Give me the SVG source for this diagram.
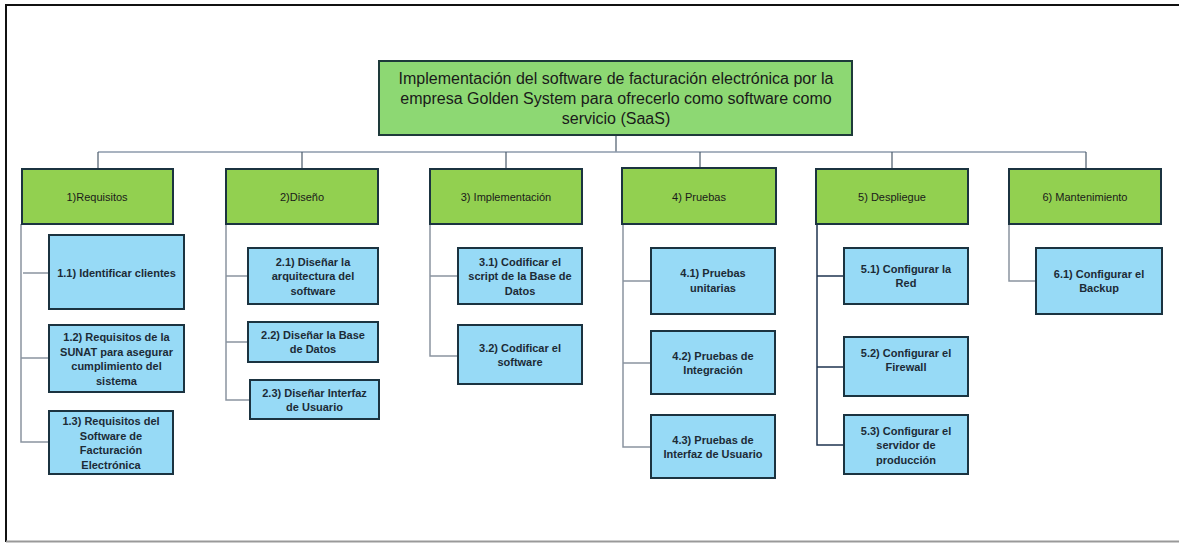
<svg xmlns="http://www.w3.org/2000/svg" width="1179" height="543" viewBox="0 0 1179 543">
<style>
.title{font-family:"Liberation Sans",Arial,sans-serif;font-size:16px;fill:#1a1a1a;text-anchor:middle}
.l1{font-family:"Liberation Sans",Arial,sans-serif;font-size:11px;fill:#1a1a1a;text-anchor:middle}
.l2{font-family:"Liberation Sans",Arial,sans-serif;font-size:11px;font-weight:bold;fill:#1c2b36;text-anchor:middle}
.top{fill:#8dd873;stroke:#1e3a3a;stroke-width:2}
.g{fill:#92d050;stroke:#1b3340;stroke-width:2}
.b{fill:#97daf6;stroke:#1b3340;stroke-width:2}
.bus{stroke:#8c9aab;stroke-width:1.5;fill:none}
.drop{stroke:#4a5a6a;stroke-width:1.2;fill:none}
.br{stroke:#8a94a0;stroke-width:1.5;fill:none}
</style>
<rect x="0" y="0" width="1179" height="543" fill="#ffffff"/>
<line x1="5" y1="5" x2="1179" y2="5" stroke="#111" stroke-width="2"/>
<line x1="6" y1="4" x2="6" y2="542" stroke="#111" stroke-width="2"/>
<line x1="6" y1="541.5" x2="1179" y2="541.5" stroke="#999" stroke-width="2"/>

<g id="connectors">
<line class="drop" x1="616" y1="136" x2="616" y2="152"/>
<line class="bus" x1="98" y1="152" x2="1086" y2="152"/>
<line class="drop" x1="98" y1="152" x2="98" y2="168"/>
<line class="drop" x1="302" y1="152" x2="302" y2="168"/>
<line class="drop" x1="506" y1="152" x2="506" y2="168"/>
<line class="drop" x1="700" y1="152" x2="700" y2="168"/>
<line class="drop" x1="892" y1="152" x2="892" y2="168"/>
<line class="drop" x1="1086" y1="152" x2="1086" y2="168"/>
<path class="br" d="M21 224 V442 H49 M23 273 H49 M21 358 H49"/>
<path class="br" d="M226 224 V400 H250 M226 276 H248 M226 342 H248"/>
<path class="br" d="M430 224 V356 H458 M430 276 H458"/>
<path class="br" d="M623 224 V447 H651 M623 281 H651 M623 363 H651"/>
<path class="br" d="M817 224 V445 H844 M817 276 H844 M817 367 H844" style="stroke:#1f3550"/>
<path class="br" d="M1009 224 V281 H1036"/>
</g>

<g id="root">
<rect class="top" x="379" y="61" width="473" height="74"/>
<text class="title" x="616" y="84">Implementación del software de facturación electrónica por la</text>
<text class="title" x="616" y="104">empresa Golden System para ofrecerlo como software como</text>
<text class="title" x="616" y="124">servicio (SaaS)</text>
</g>

<g id="n1"><rect class="g" x="22" y="169" width="151" height="55"/><text class="l1" x="97" y="201">1)Requisitos</text></g>
<g id="n2"><rect class="g" x="226" y="169" width="152" height="55"/><text class="l1" x="302" y="201">2)Diseño</text></g>
<g id="n3"><rect class="g" x="430" y="169" width="152" height="55"/><text class="l1" x="506" y="201">3) Implementación</text></g>
<g id="n4"><rect class="g" x="622" y="168" width="154" height="56"/><text class="l1" x="699" y="201">4) Pruebas</text></g>
<g id="n5"><rect class="g" x="816" y="169" width="152" height="55"/><text class="l1" x="892" y="201">5) Despliegue</text></g>
<g id="n6"><rect class="g" x="1009" y="169" width="152" height="55"/><text class="l1" x="1085" y="201">6) Mantenimiento</text></g>

<g id="n1-1"><rect class="b" x="49" y="235" width="135" height="74"/><text class="l2" x="116.5" y="277">1.1) Identificar clientes</text></g>
<g id="n1-2"><rect class="b" x="49" y="325" width="135" height="67"/><text class="l2" x="116.5" y="341">1.2) Requisitos de la</text><text class="l2" x="116.5" y="356">SUNAT para asegurar</text><text class="l2" x="116.5" y="370">cumplimiento del</text><text class="l2" x="116.5" y="385">sistema</text></g>
<g id="n1-3"><rect class="b" x="49" y="411" width="124" height="63"/><text class="l2" x="111" y="425">1.3) Requisitos del</text><text class="l2" x="111" y="440">Software de</text><text class="l2" x="111" y="454">Facturación</text><text class="l2" x="111" y="469">Electrónica</text></g>

<g id="n2-1"><rect class="b" x="248" y="248" width="130" height="56"/><text class="l2" x="313" y="266">2.1) Diseñar la</text><text class="l2" x="313" y="280">arquitectura del</text><text class="l2" x="313" y="295">software</text></g>
<g id="n2-2"><rect class="b" x="248" y="322" width="130" height="40"/><text class="l2" x="313" y="339">2.2) Diseñar la Base</text><text class="l2" x="313" y="353">de Datos</text></g>
<g id="n2-3"><rect class="b" x="250" y="380" width="129" height="39"/><text class="l2" x="314.5" y="397">2.3) Diseñar Interfaz</text><text class="l2" x="314.5" y="411">de Usuario</text></g>

<g id="n3-1"><rect class="b" x="458" y="248" width="124" height="56"/><text class="l2" x="520" y="266">3.1) Codificar el</text><text class="l2" x="520" y="280">script de la Base de</text><text class="l2" x="520" y="295">Datos</text></g>
<g id="n3-2"><rect class="b" x="458" y="325" width="124" height="59"/><text class="l2" x="520" y="352">3.2) Codificar el</text><text class="l2" x="520" y="366">software</text></g>

<g id="n4-1"><rect class="b" x="651" y="248" width="124" height="66"/><text class="l2" x="713" y="277">4.1) Pruebas</text><text class="l2" x="713" y="292">unitarias</text></g>
<g id="n4-2"><rect class="b" x="651" y="331" width="124" height="63"/><text class="l2" x="713" y="360">4.2) Pruebas de</text><text class="l2" x="713" y="374">Integración</text></g>
<g id="n4-3"><rect class="b" x="651" y="415" width="124" height="63"/><text class="l2" x="713" y="444">4.3) Pruebas de</text><text class="l2" x="713" y="458">Interfaz de Usuario</text></g>

<g id="n5-1"><rect class="b" x="844" y="248" width="124" height="56"/><text class="l2" x="906" y="273">5.1) Configurar la</text><text class="l2" x="906" y="287">Red</text></g>
<g id="n5-2"><rect class="b" x="844" y="337" width="124" height="59"/><text class="l2" x="906" y="357">5.2) Configurar el</text><text class="l2" x="906" y="371">Firewall</text></g>
<g id="n5-3"><rect class="b" x="844" y="415" width="124" height="59"/><text class="l2" x="906" y="435">5.3) Configurar el</text><text class="l2" x="906" y="449">servidor de</text><text class="l2" x="906" y="464">producción</text></g>

<g id="n6-1"><rect class="b" x="1036" y="248" width="126" height="66"/><text class="l2" x="1099" y="278">6.1) Configurar el</text><text class="l2" x="1099" y="292">Backup</text></g>
</svg>
